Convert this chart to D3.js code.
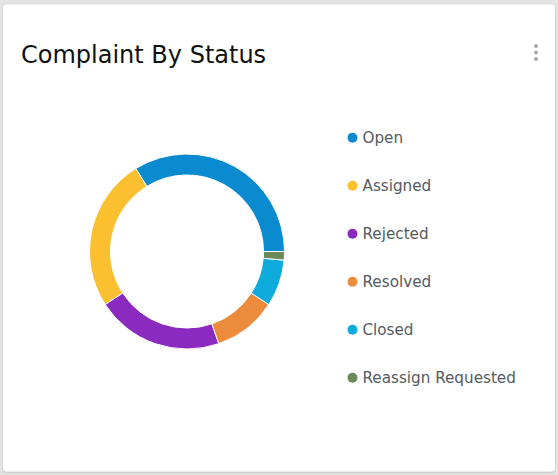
<!DOCTYPE html>
<html>
<head>
<meta charset="utf-8">
<script src="https://cdn.jsdelivr.net/npm/d3@7"></script>
<style>
  body { margin: 0; background: #e4e4e4; font-family: "DejaVu Sans", sans-serif; }
  svg { display: block; }
</style>
</head>
<body>
<div id="chart"></div>
<script>
// data
const statuses = ["Open", "Assigned", "Rejected", "Resolved", "Closed", "Reassign Requested"];
const counts = [48, 36, 30, 15, 11, 2];
const colors = ["#0a8bd0", "#fbbf2f", "#8b2abf", "#ec8b3c", "#0eabdc", "#6b8959"];

const width = 558;
const height = 475;

const svg = d3.select("#chart").append("svg")
  .attr("width", width)
  .attr("height", height);

// card
const defs = svg.append("defs");
const shadow = defs.append("filter").attr("id", "shadow")
  .attr("x", "-5%").attr("y", "-5%").attr("width", "110%").attr("height", "110%");
shadow.append("feDropShadow")
  .attr("dx", 0).attr("dy", 1).attr("stdDeviation", 1.2)
  .attr("flood-color", "#000").attr("flood-opacity", 0.18);

svg.append("rect")
  .attr("x", 3).attr("y", 4.5)
  .attr("width", 552).attr("height", 467)
  .attr("rx", 4)
  .attr("fill", "#fff")
  .attr("filter", "url(#shadow)");

svg.append("text")
  .attr("x", 21)
  .attr("y", 63)
  .attr("font-size", 24)
  .attr("fill", "#111")
  .text("Complaint By Status");

// menu dots
svg.selectAll("circle.menu").data([0, 1, 2]).enter().append("circle")
  .attr("class", "menu")
  .attr("cx", 536)
  .attr("cy", d => 46 + d * 6.5)
  .attr("r", 2)
  .attr("fill", "#aaa");

// donut
const cx = 187, cy = 251.5;
const pie = d3.pie()
  .sort(null)
  .value(d => d)
  .startAngle(Math.PI / 2)
  .endAngle(Math.PI / 2 - 2 * Math.PI);

const arc = d3.arc()
  .innerRadius(76.5)
  .outerRadius(97.5);

const g = svg.append("g").attr("transform", `translate(${cx},${cy})`);

g.selectAll("path").data(pie(counts)).enter().append("path")
  .attr("d", arc)
  .attr("fill", (d, i) => colors[i])
  .attr("stroke", "#fff")
  .attr("stroke-width", 1);

// legend
const legend = svg.append("g").attr("transform", "translate(352.5,137.8)");
const item = legend.selectAll("g").data(statuses).enter().append("g")
  .attr("transform", (d, i) => `translate(0,${i * 48})`);

item.append("circle")
  .attr("r", 5)
  .attr("fill", (d, i) => colors[i]);

item.append("text")
  .attr("x", 10)
  .attr("y", 5.5)
  .attr("font-size", 15.2)
  .attr("fill", "#545a60")
  .text(d => d);
</script>
</body>
</html>
